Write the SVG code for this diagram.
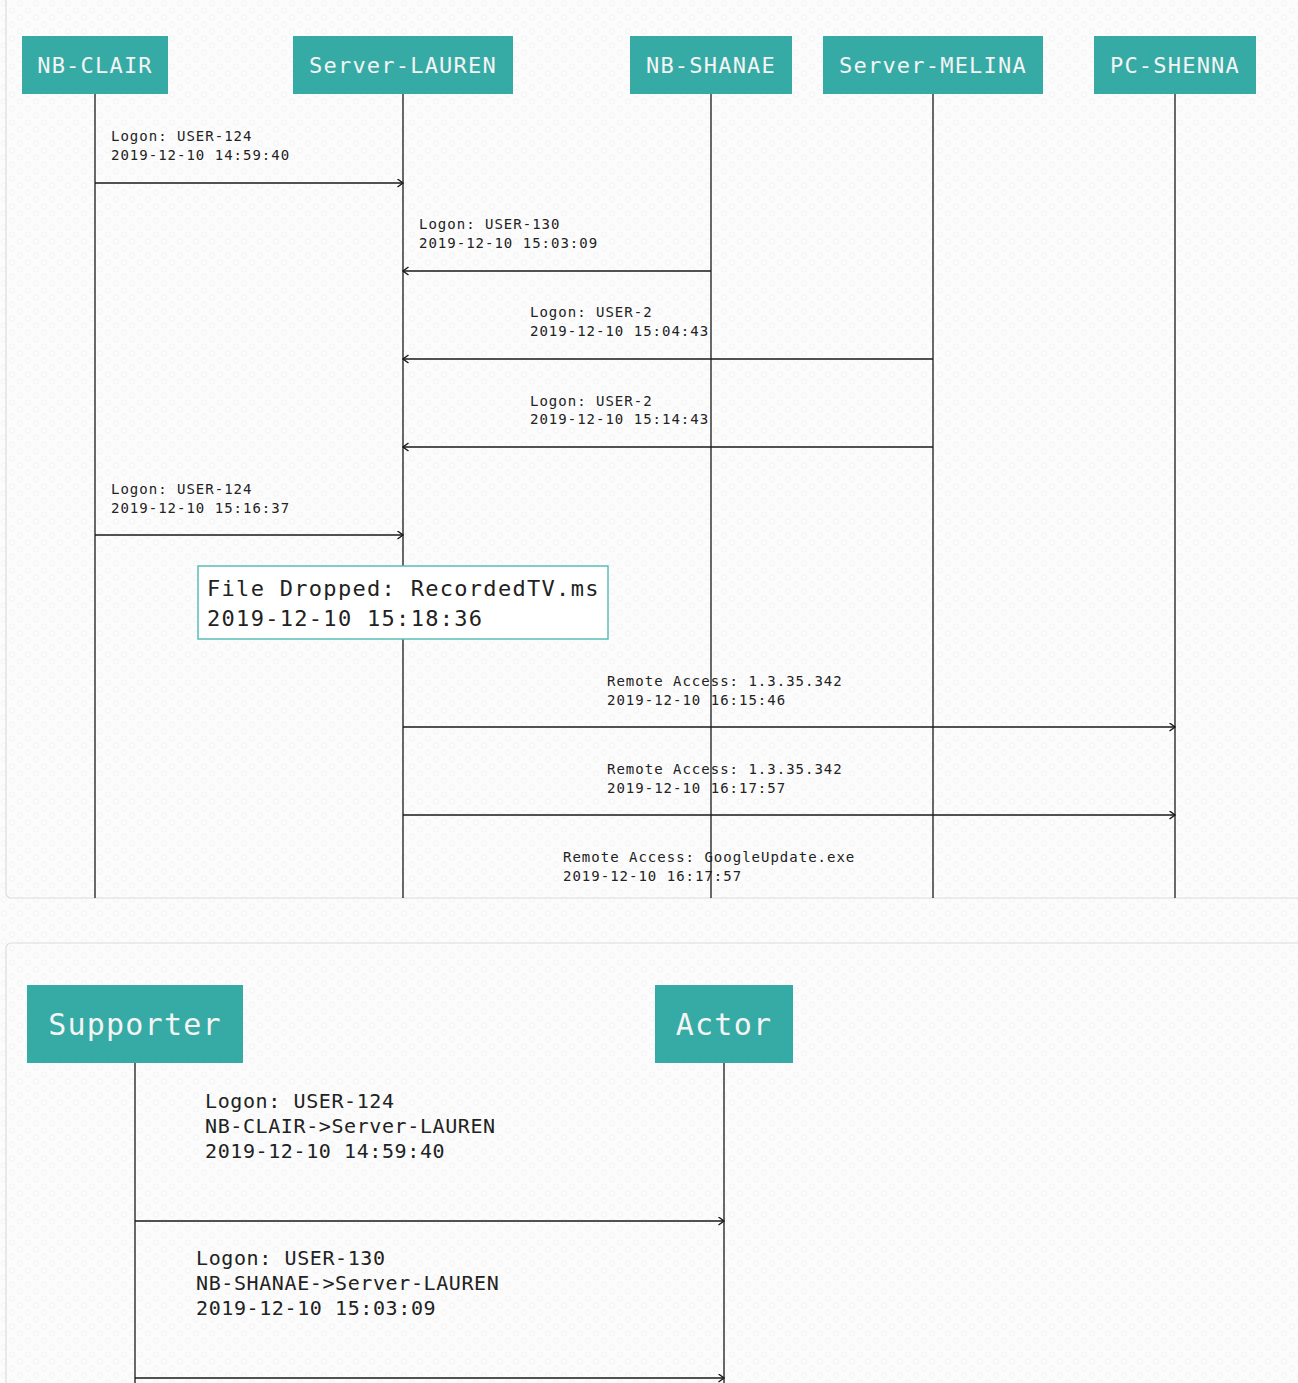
<svg xmlns="http://www.w3.org/2000/svg" width="1298" height="1383" viewBox="0 0 1298 1383">
<style>
.hdr{fill:#36aba5}
.ht{font-family:"DejaVu Sans Mono",monospace;fill:#f4f4f4;text-anchor:middle}
.h1{font-size:22px;letter-spacing:1.2px}
.h2{font-size:30px;letter-spacing:1.2px}
.life{stroke:#1a1a1a;stroke-width:1.3;fill:none}
.msg{stroke:#1a1a1a;stroke-width:1.3;fill:none}
.lbl{font-family:"DejaVu Sans Mono",monospace;font-size:14px;letter-spacing:1px;fill:#222}
.lbl2{font-family:"DejaVu Sans Mono",monospace;font-size:20px;letter-spacing:0.6px;fill:#222}
.note{font-family:"DejaVu Sans Mono",monospace;font-size:22px;letter-spacing:1.3px;fill:#222}
.panel{fill:url(#bg);stroke:#dcdcdc;stroke-width:1.2}
</style>
<defs>
<pattern id="bg" width="16" height="14" patternUnits="userSpaceOnUse">
<rect width="16" height="14" fill="#fcfcfc"/>
<circle cx="4" cy="3.5" r="2.6" fill="none" stroke="#f1f1f1" stroke-width="0.8"/>
<circle cx="12" cy="10.5" r="2.6" fill="none" stroke="#f1f1f1" stroke-width="0.8"/>
</pattern>
<marker id="ar" markerWidth="9" markerHeight="10" refX="6.5" refY="4.5" orient="auto" markerUnits="userSpaceOnUse">
<path d="M1,0.5 L6.5,4.5 L1,8.5" fill="none" stroke="#1a1a1a" stroke-width="1.4"/>
</marker>
</defs>
<rect width="1298" height="1383" fill="url(#bg)"/>
<rect class="panel" x="6" y="-10" width="1310" height="908" rx="5"/>
<rect class="panel" x="6" y="943" width="1310" height="460" rx="5"/>

<g id="lifelines">
<line class="life" x1="95" y1="94" x2="95" y2="898"/>
<line class="life" x1="403" y1="94" x2="403" y2="898"/>
<line class="life" x1="711" y1="94" x2="711" y2="898"/>
<line class="life" x1="933" y1="94" x2="933" y2="898"/>
<line class="life" x1="1175" y1="94" x2="1175" y2="898"/>
<line class="life" x1="135" y1="1063" x2="135" y2="1383"/>
<line class="life" x1="724" y1="1063" x2="724" y2="1383"/>
</g>

<g id="node-nb-clair"><rect class="hdr" x="22" y="36" width="146" height="58"/><text class="ht h1" x="95" y="73">NB-CLAIR</text></g>
<g id="node-server-lauren"><rect class="hdr" x="293" y="36" width="220" height="58"/><text class="ht h1" x="403" y="73">Server-LAUREN</text></g>
<g id="node-nb-shanae"><rect class="hdr" x="630" y="36" width="162" height="58"/><text class="ht h1" x="711" y="73">NB-SHANAE</text></g>
<g id="node-server-melina"><rect class="hdr" x="823" y="36" width="220" height="58"/><text class="ht h1" x="933" y="73">Server-MELINA</text></g>
<g id="node-pc-shenna"><rect class="hdr" x="1094" y="36" width="162" height="58"/><text class="ht h1" x="1175" y="73">PC-SHENNA</text></g>

<g id="node-file-dropped">
<rect x="198" y="566" width="410" height="73" fill="#ffffff" stroke="#5bbdb6" stroke-width="1.5"/>
<text class="note" x="207" y="596">File Dropped: RecordedTV.ms</text>
<text class="note" x="207" y="626">2019-12-10 15:18:36</text>
</g>

<g id="node-supporter"><rect class="hdr" x="27" y="985" width="216" height="78"/><text class="ht h2" x="135" y="1035">Supporter</text></g>
<g id="node-actor"><rect class="hdr" x="655" y="985" width="138" height="78"/><text class="ht h2" x="724" y="1035">Actor</text></g>

<g id="connectors">
<line class="msg" x1="95" y1="183" x2="403" y2="183" marker-end="url(#ar)"/>
<line class="msg" x1="711" y1="271" x2="403" y2="271" marker-end="url(#ar)"/>
<line class="msg" x1="933" y1="359" x2="403" y2="359" marker-end="url(#ar)"/>
<line class="msg" x1="933" y1="447" x2="403" y2="447" marker-end="url(#ar)"/>
<line class="msg" x1="95" y1="535" x2="403" y2="535" marker-end="url(#ar)"/>
<line class="msg" x1="403" y1="727" x2="1175" y2="727" marker-end="url(#ar)"/>
<line class="msg" x1="403" y1="815" x2="1175" y2="815" marker-end="url(#ar)"/>
<line class="msg" x1="135" y1="1221" x2="724" y2="1221" marker-end="url(#ar)"/>
<line class="msg" x1="135" y1="1378" x2="724" y2="1378" marker-end="url(#ar)"/>
</g>

<g id="labels">
<text class="lbl" x="111" y="141">Logon: USER-124</text>
<text class="lbl" x="111" y="160">2019-12-10 14:59:40</text>
<text class="lbl" x="419" y="229">Logon: USER-130</text>
<text class="lbl" x="419" y="248">2019-12-10 15:03:09</text>
<text class="lbl" x="530" y="317">Logon: USER-2</text>
<text class="lbl" x="530" y="336">2019-12-10 15:04:43</text>
<text class="lbl" x="530" y="406">Logon: USER-2</text>
<text class="lbl" x="530" y="424">2019-12-10 15:14:43</text>
<text class="lbl" x="111" y="494">Logon: USER-124</text>
<text class="lbl" x="111" y="513">2019-12-10 15:16:37</text>
<text class="lbl" x="607" y="686">Remote Access: 1.3.35.342</text>
<text class="lbl" x="607" y="705">2019-12-10 16:15:46</text>
<text class="lbl" x="607" y="774">Remote Access: 1.3.35.342</text>
<text class="lbl" x="607" y="793">2019-12-10 16:17:57</text>
<text class="lbl" x="563" y="862">Remote Access: GoogleUpdate.exe</text>
<text class="lbl" x="563" y="881">2019-12-10 16:17:57</text>
<text class="lbl2" x="205" y="1108">Logon: USER-124</text>
<text class="lbl2" x="205" y="1133">NB-CLAIR-&gt;Server-LAUREN</text>
<text class="lbl2" x="205" y="1158">2019-12-10 14:59:40</text>
<text class="lbl2" x="196" y="1265">Logon: USER-130</text>
<text class="lbl2" x="196" y="1290">NB-SHANAE-&gt;Server-LAUREN</text>
<text class="lbl2" x="196" y="1315">2019-12-10 15:03:09</text>
</g>
</svg>
